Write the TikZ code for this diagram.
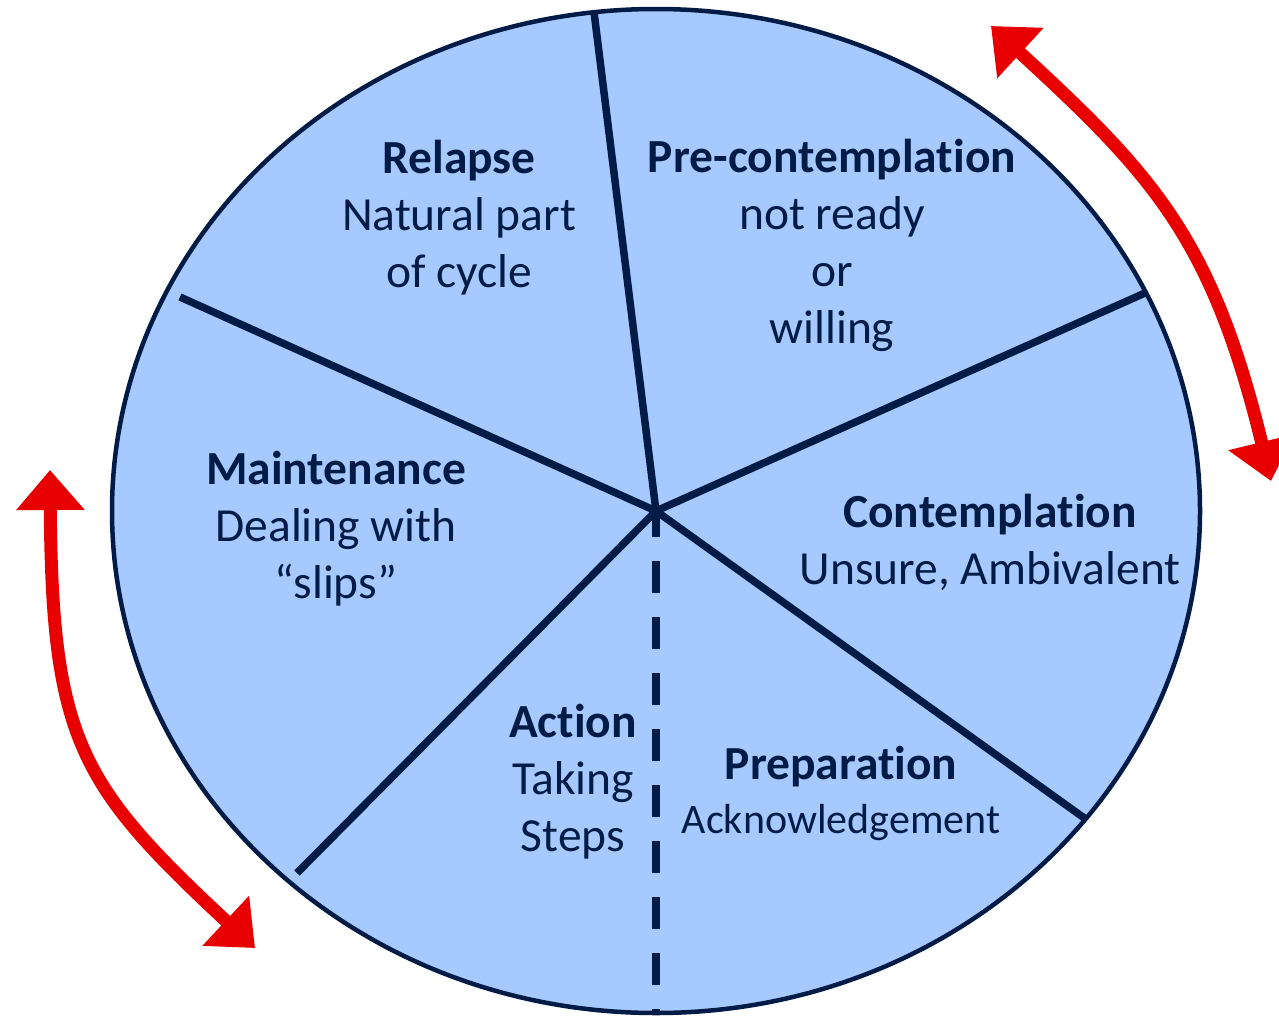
\documentclass[tikz,border=0pt]{standalone}
\usepackage{fontspec}
\setmainfont{Carlito}[Ligatures=NoCommon]
\usetikzlibrary{arrows.meta}

\definecolor{wheelfill}{RGB}{166,202,255}
\definecolor{wheelline}{RGB}{0,28,70}
\definecolor{cyclered}{RGB}{232,0,0}

\def\stagefont{\fontsize{47.5pt}{57pt}\selectfont}
\def\smallstagefont{\fontsize{42pt}{50pt}\selectfont}
% keep "t" and "i" apart (no ti ligature)
\def\tI{t\kern0pt i}

\tikzset{wheel:style/.style={draw=wheelline,fill=wheelfill,line width=4.5pt}}
\tikzset{spoke:style/.style={draw,wheelline,line width=7.5pt}}
\tikzset{stage:style/.style={align=center,text=wheelline,font=\stagefont,inner sep=0pt}}
\tikzset{cycle:style/.style={draw,cyclered,line width=13pt,
    {Triangle[length=40pt,width=66pt]}-{Triangle[length=40pt,width=66pt]}}}

\begin{document}
\begin{tikzpicture}[x=1pt,y=-1pt]
	\useasboundingbox (0,0) rectangle (1279,1017);
	
	% hub and rim points of the spokes
	\path 
		(656,511) coordinate (hub)
		(594,12) coordinate (rim1)
		(1145,293) coordinate (rim2)
		(1087,820) coordinate (rim3)
		(656,1013) coordinate (rim4)
		(297,873) coordinate (rim5)
		(180,297) coordinate (rim6);
	
	\path[wheel:style] (hub) ellipse [x radius=544pt, y radius=502pt];
	
	\path[spoke:style] (hub) -- (rim1);
	\path[spoke:style] (hub) -- (rim2);
	\path[spoke:style] (hub) -- (rim3);
	\path[spoke:style] (hub) -- (rim5);
	\path[spoke:style] (hub) -- (rim6);
	\path[spoke:style,dash pattern=on 32pt off 24pt,dash phase=6pt] (hub) -- (rim4);
	
	% stage labels
	\path (459,218) node[stage:style] (relapse) {\textbf{Relapse}\\Natural part\\of cycle};
	\path (832,245) node[stage:style] (precon) {\textbf{Pre-contempla\tI on}\\not ready\\or\\willing};
	\path (336,529) node[stage:style] (maint) {\textbf{Maintenance}\\Dealing with\\“slips”};
	\path (990,542) node[stage:style] (contem) {\textbf{Contempla\tI on}\\Unsure, Ambivalent};
	\path (573,782) node[stage:style] (action) {\textbf{Ac\tI on}\\Taking\\Steps};
	\path (841,793) node[stage:style] (prep) {\textbf{Prepara\tI on}\\[-3pt]{\smallstagefont Acknowledgement}};
	
	% cycle arrows
	\path 
		(991,26) coordinate (rtop)
		(1271,481) coordinate (rbot)
		(50,470) coordinate (ltop)
		(255,948) coordinate (lbot);
	
	\path[cycle:style] (rtop) .. controls (1153,175) and (1212,238) .. (rbot);
	\path[cycle:style] (ltop) .. controls (52,740) and (80,785) .. (lbot);
	
\end{tikzpicture}
\end{document}
